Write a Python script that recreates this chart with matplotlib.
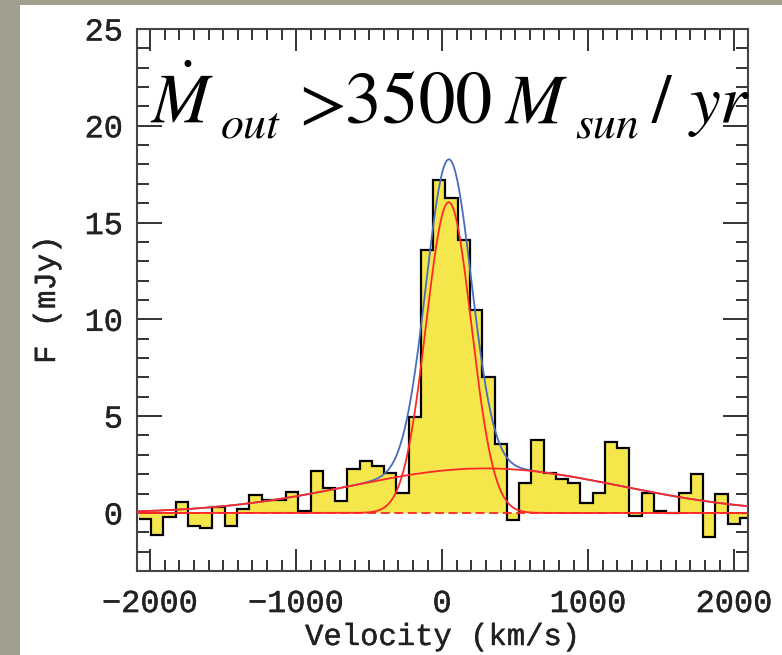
import numpy as np
import matplotlib
matplotlib.use("Agg")
import matplotlib.pyplot as plt
import matplotlib.patheffects as pe
from matplotlib.patches import Rectangle
from matplotlib.ticker import MultipleLocator

# ---- data ----
# velocity bin edges (km/s)
bin_edges = [-2077, -1993, -1909, -1825, -1741, -1657, -1573, -1489, -1405, -1321,
             -1237, -1153, -1069, -985, -901, -817, -733, -649, -565, -481,
             -397, -313, -229, -145, -61, 23, 107, 191, 275, 359,
             443, 527, 611, 695, 779, 863, 947, 1031, 1115, 1199,
             1283, 1367, 1451, 1535, 1619, 1703, 1787, 1871, 1955, 2039, 2123]
# flux per bin (mJy)
flux = [-0.3, -1.12, -0.2, 0.55, -0.69, -0.79, 0.29, -0.69, 0.22, 0.95,
        0.65, 0.65, 1.08, 0.09, 2.15, 1.29, 0.64, 2.27, 2.7, 2.4,
        2.06, 1.03, 4.96, 13.56, 17.2, 16.25, 14.1, 10.5, 7.03, 3.54,
        -0.36, 1.53, 3.75, 2.05, 1.74, 1.56, 0.5, 1.05, 3.64, 3.33,
        -0.15, 1.05, 0.08, 0.0, 1.05, 2.0, -1.25, 0.96, -0.57, -0.24]

# Gaussian fit components: amplitude (mJy), centre (km/s), sigma (km/s)
narrow_amp, narrow_cen, narrow_sig = 16.05, 45.0, 155.0
broad_amp, broad_cen, broad_sig = 2.3, 296.0, 924.0

xticks = [-2000, -1000, 0, 1000, 2000]
xticklabels = ['\u22122000', '\u22121000', '0', '1000', '2000']
yticks = [0, 5, 10, 15, 20, 25]

# ---- figure ----
plt.rcParams['mathtext.fontset'] = 'stix'
W, H = 782, 655
fig = plt.figure(figsize=(W / 100, H / 100), dpi=100)
fig.patch.set_facecolor('#a09e8c')
fig.patches.append(Rectangle((20 / W, 0), 1, 650 / H, transform=fig.transFigure,
                             facecolor='white', edgecolor='none', zorder=-10))

ax = fig.add_axes([137 / W, 1 - 571 / H, (748 - 137) / W, (571 - 29) / H])
ax.set_zorder(1)
ax.set_facecolor('white')

yellow = '#f5e64c'
ax.stairs(flux, bin_edges, baseline=0, fill=True, color=yellow, zorder=1)
ax.stairs(flux, bin_edges, baseline=None, color='black', lw=1.6, zorder=2)

v = np.linspace(-2090, 2095, 1200)
narrow = narrow_amp * np.exp(-0.5 * ((v - narrow_cen) / narrow_sig) ** 2)
broad = broad_amp * np.exp(-0.5 * ((v - broad_cen) / broad_sig) ** 2)
ax.plot(v, narrow + broad, color='#4a6cc0', lw=1.3, zorder=3)
ax.plot(v, narrow, color='#ff2828', lw=1.3, zorder=4)
ax.plot(v, broad, color='#ff2828', lw=1.3, zorder=4)
ax.axhline(0, color='#ff2828', lw=1.3, ls=(0, (5, 2.5)), zorder=4)

ax.set_xlim(-2090, 2095)
ax.set_ylim(-3, 25)
ax.set_xticks(xticks)
ax.set_xticklabels(xticklabels)
ax.set_yticks(yticks)
ax.xaxis.set_minor_locator(MultipleLocator(100))
ax.yaxis.set_minor_locator(MultipleLocator(1))

for s in ax.spines.values():
    s.set_color('#444444')
    s.set_linewidth(1.5)
label_font = 'Liberation Mono'
label_col = '#222222'
thicken = [pe.withStroke(linewidth=0.3, foreground=label_col)]
ax.tick_params(axis='both', which='both', direction='in', top=True, right=True,
               color='#333333', width=1.4, labelcolor=label_col)
ax.tick_params(axis='y', which='major', length=18, labelsize=23, pad=10)
ax.tick_params(axis='y', which='minor', length=8.4)
ax.tick_params(axis='x', which='major', length=15.5, labelsize=23, pad=13)
ax.tick_params(axis='x', which='minor', length=7.7)
for lab in ax.get_xticklabels() + ax.get_yticklabels():
    lab.set_fontfamily(label_font)
    lab.set_path_effects(thicken)

fig.text(442 / W, 1 - 637 / H, 'Velocity (km/s)', ha='center', va='center',
         fontsize=22, family=label_font, color=label_col, path_effects=thicken)
fig.text(47 / W, 1 - 300 / H, 'F (mJy)', ha='center', va='center', rotation=90,
         fontsize=22, family=label_font, color=label_col, path_effects=thicken)

# annotation  "Mdot_out > 3500 M_sun / yr", placed piece by piece
S = 50
pieces = [  # (left x px, baseline y px, text, size, style)
    (150, 123, r'$\dot{M}$', S, 'normal'),
    (221, 138, 'out', 0.66 * S, 'italic'),
    (299, 123, '>', S, 'normal'),
    (345, 123, '3500', S * 1.06, 'normal'),
    (505, 123, 'M', S, 'italic'),
    (575, 138, 'sun', 0.66 * S, 'italic'),
    (652, 123, '/', S, 'normal'),
    (690, 123, 'yr', S, 'italic'),
]
for x, y, t, size, style in pieces:
    fig.text(x / W, 1 - y / H, t, ha='left', va='baseline', fontsize=size,
             family='STIXGeneral', style=style, color='black', zorder=10)

fig.savefig('out.png', dpi=100, facecolor=fig.get_facecolor())
